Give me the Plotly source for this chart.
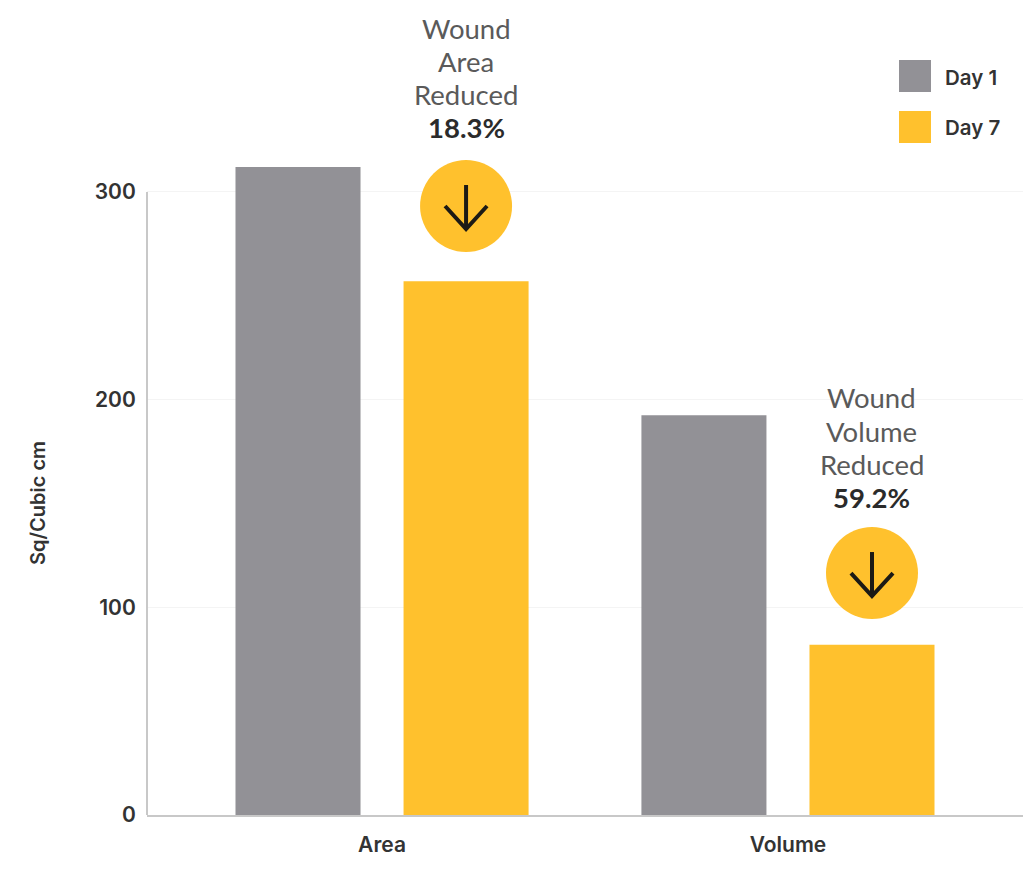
import plotly.graph_objects as go

categories = ["Area", "Volume"]
positions = [0, 1]
day1 = [312, 192.5]
day7 = [257, 82]
series_names = ["Day 1", "Day 7"]
y_ticks = [0, 100, 200, 300]
callout_lines = [["Wound", "Area", "Reduced", "18.3%"], ["Wound", "Volume", "Reduced", "59.2%"]]
badge_x = [0.207, 1.207]
badge_y = [293.2, 116.5]
callout_first_line_px = [28, 398]

GREY = "#929196"
GOLD = "#FFC12D"
W, H = 1036, 892
L, R, T, B = 147, 13, 0, 77
FONT = "Lato"
BOLD = "Inter"
PX_PER_UNIT = 2.077

fig = go.Figure()
fig.add_bar(x=positions, y=day1, name=series_names[0], marker=dict(color=GREY, line_width=0))
fig.add_bar(x=positions, y=day7, name=series_names[1], marker=dict(color=GOLD, line_width=0))
fig.add_scatter(x=badge_x, y=badge_y, mode="markers", hoverinfo="skip",
                marker=dict(size=92, color=GOLD, line_width=0), showlegend=False)

shapes = [dict(type="line", xref="paper", yref="y", x0=0, x1=0, y0=0, y1=300,
               line=dict(color="#c8c8c8", width=2))]
for bx, by in zip(badge_x, badge_y):
    common = dict(type="path", xref="x", yref="y", xsizemode="pixel", ysizemode="pixel",
                  xanchor=bx, yanchor=by, line=dict(color="#1c1a15", width=4), layer="above")
    shapes.append(dict(common, path="M0,21 L0,-24"))
    shapes.append(dict(common, path="M-21,0 L0,-23 L21,0"))

def px_x(p): return (p - L) / (W - L - R)
def px_y(p): return (H - B - p) / (H - B - T)

annotations = []
for bx, first, lines in zip(badge_x, callout_first_line_px, callout_lines):
    for i, line in enumerate(lines):
        strong = i == 3
        annotations.append(dict(x=bx, y=px_y(first + i * 33.2), xref="x", yref="paper", showarrow=False,
                                xanchor="center", yanchor="middle", text=line,
                                font=dict(family=FONT, size=27.5, weight=700 if strong else 400,
                                          color="#2b2b2b" if strong else "#5a5a5a")))
for name, color, top in zip(series_names, [GREY, GOLD], [60, 111]):
    shapes.append(dict(type="rect", xref="paper", yref="paper", x0=px_x(899), x1=px_x(931),
                       y0=px_y(top + 32), y1=px_y(top), fillcolor=color, line_width=0))
    annotations.append(dict(x=px_x(943), y=px_y(top + 17), xref="paper", yref="paper", showarrow=False,
                            xanchor="left", yanchor="middle", text=name,
                            font=dict(family=BOLD, size=20.5, weight=600, color="#333333")))
annotations.append(dict(x=px_x(38), y=px_y(503), xref="paper", yref="paper", showarrow=False,
                        xanchor="center", yanchor="middle", textangle=-90, text="Sq/Cubic cm",
                        font=dict(family=BOLD, size=20, weight=600, color="#333333")))

tick_font = dict(family=BOLD, size=21, weight=600, color="#333333")
fig.update_layout(
    width=W, height=H, margin=dict(l=L, r=R, t=T, b=B), autosize=False,
    paper_bgcolor="white", plot_bgcolor="white", showlegend=False,
    barmode="group", bargap=0.172, bargroupgap=0.256,
    font=dict(family=FONT, color="#333333"),
    shapes=shapes, annotations=annotations,
    xaxis=dict(range=[-0.579, 1.579], tickvals=positions, ticktext=categories,
               showgrid=False, zeroline=False, showline=True, linecolor="#c8c8c8", linewidth=2,
               ticks="outside", ticklen=10, tickcolor="rgba(0,0,0,0)", tickfont=tick_font),
    yaxis=dict(range=[0, (H - B - T) / PX_PER_UNIT], tickvals=y_ticks,
               gridcolor="#f4f4f4", gridwidth=1, zeroline=False, showline=False,
               ticks="outside", ticklen=6, tickcolor="rgba(0,0,0,0)", tickfont=tick_font),
)
fig.write_html("out.html", post_script="document.body.style.margin='0';",
               config=dict(displayModeBar=False))
